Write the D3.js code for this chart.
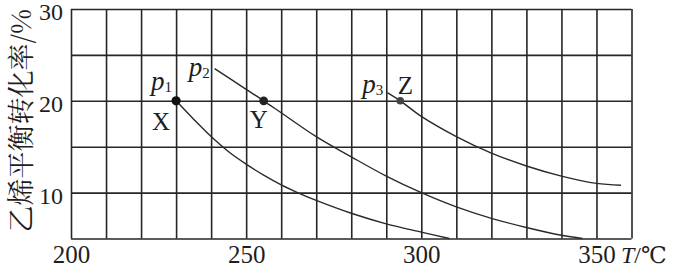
<!DOCTYPE html>
<html>
<head>
<meta charset="utf-8">
<script src="https://cdn.jsdelivr.net/npm/d3@7"></script>
<style>
  html, body { margin: 0; padding: 0; background: #fff; }
  svg { display: block; }
</style>
</head>
<body>
<svg id="chart" width="677" height="267"></svg>
<script>
// ---- data ----
const gridTemps = [200, 210, 220, 230, 240, 250, 260, 270, 280, 290, 300, 310, 320, 330, 340, 350, 360];
const tempTickLabels = [200, 250, 300, 350];
const gridRates = [5, 10, 15, 20, 25, 30];
const rateTickLabels = [10, 20, 30];

// curve p1 (starts at X)
const p1Temps = [230, 235, 240, 245, 250, 255, 260, 265, 270, 280, 290, 300, 308];
const p1Rates = [20, 18.0, 16.1, 14.45, 13.1, 11.9, 10.85, 9.95, 9.15, 7.75, 6.6, 5.7, 5.0];
// curve p2 (passes Y)
const p2Temps = [241, 250, 255, 260, 270, 280, 290, 300, 310, 320, 330, 340, 346];
const p2Rates = [23.5, 21.25, 20.0, 18.7, 16.1, 13.9, 11.8, 10.0, 8.45, 7.2, 6.2, 5.35, 5.0];
// curve p3 (passes Z)
const p3Temps = [290.3, 294, 300, 310, 320, 330, 340, 350, 357];
const p3Rates = [20.9, 20.0, 18.3, 16.1, 14.3, 12.9, 11.8, 11.0, 10.8];

const pointNames = ["X", "Y", "Z"];
const pointTemps = [230, 255, 294];
const pointRates = [20, 20, 20];

const pressureNames = ["1", "2", "3"];
const yTitle = "乙烯平衡转化率/%";
const xTitleVar = "T";
const xTitleSlash = "/";
const xTitleUnit = "℃";

// ---- drawing ----
const svg = d3.select("#chart");
const x = d3.scaleLinear().domain([200, 360]).range([71, 631.5]);
const y = d3.scaleLinear().domain([5, 30]).range([238.5, 9]);
const ink = "#262626";
const textInk = "#1e1e1e";
const serif = "'Liberation Serif', 'DejaVu Serif', serif";

// grid + axes
const yAxis = d3.axisLeft(y)
  .tickValues(gridRates)
  .tickSize(-(x.range()[1] - x.range()[0]))
  .tickPadding(8)
  .tickFormat(d => rateTickLabels.includes(d) ? d : "");
const gy = svg.append("g").attr("transform", `translate(${x.range()[0]},0)`).call(yAxis);

const xAxis = d3.axisBottom(x)
  .tickValues(gridTemps)
  .tickSize(-(y.range()[0] - y.range()[1]))
  .tickPadding(6)
  .tickFormat(d => tempTickLabels.includes(d) ? d : "");
const gx = svg.append("g").attr("transform", `translate(0,${y.range()[0]})`).call(xAxis);

[gx, gy].forEach(g => {
  g.select(".domain").remove();
  g.selectAll(".tick line").attr("stroke", ink).attr("stroke-width", 1.6);
  g.selectAll(".tick text")
    .attr("fill", textInk)
    .attr("font-family", serif)
    .attr("font-size", 25);
});
gy.selectAll(".tick text").attr("font-size", 24).attr("dy", "0.45em");
gx.selectAll(".tick text").attr("dy", "0.72em");

// curves
const line = d3.line().x(d => x(d[0])).y(d => y(d[1])).curve(d3.curveCatmullRom.alpha(0.5));
const curves = [
  d3.zip(p1Temps, p1Rates),
  d3.zip(p2Temps, p2Rates),
  d3.zip(p3Temps, p3Rates)
];
svg.append("g").selectAll("path").data(curves).join("path")
  .attr("d", line)
  .attr("fill", "none")
  .attr("stroke", "#2a2a2a")
  .attr("stroke-width", 1.4);

// points
const dotR = [4.6, 4.4, 3.8];
const dotC = ["#111", "#222", "#444"];
svg.append("g").selectAll("circle").data(pointTemps).join("circle")
  .attr("cx", (d) => x(d))
  .attr("cy", (d, i) => y(pointRates[i]))
  .attr("r", (d, i) => dotR[i])
  .attr("fill", (d, i) => dotC[i]);

// point labels
const ptOff = [[-15, 29], [-5, 27], [5, -7]];
svg.append("g").selectAll("text").data(pointNames).join("text")
  .attr("x", (d, i) => x(pointTemps[i]) + ptOff[i][0])
  .attr("y", (d, i) => y(pointRates[i]) + ptOff[i][1])
  .attr("text-anchor", "middle")
  .attr("font-family", serif)
  .attr("font-size", 25)
  .attr("fill", textInk)
  .text(d => d);

// pressure labels p1, p2, p3
const pAnchor = [
  [x(pointTemps[0]) - 25, y(pointRates[0]) - 11],
  [x(p2Temps[0]) - 26, y(p2Rates[0]) + 7],
  [x(p3Temps[0]) - 25, y(p3Rates[0]) + 0]
];
pressureNames.forEach((n, i) => {
  const t = svg.append("text")
    .attr("x", pAnchor[i][0])
    .attr("y", pAnchor[i][1])
    .attr("font-family", serif)
    .attr("fill", textInk);
  t.append("tspan").attr("font-style", "italic").attr("font-size", 27).text("p");
  t.append("tspan").attr("font-size", 15).attr("dy", 2).text(n);
});

// x title
const xt = svg.append("text")
  .attr("x", 621)
  .attr("y", 263)
  .attr("fill", textInk)
  .attr("font-family", serif)
  .attr("font-size", 24);
xt.append("tspan").attr("font-style", "italic").text(xTitleVar);
xt.append("tspan").text(xTitleSlash);
xt.append("tspan")
  .attr("font-family", "'DejaVu Serif', 'Noto Sans CJK SC', serif")
  .attr("font-size", 23)
  .text(xTitleUnit);

// y title
svg.append("text")
  .attr("transform", `translate(19,${(y.range()[0] + y.range()[1]) / 2 - 3}) rotate(-90)`)
  .attr("text-anchor", "middle")
  .attr("dominant-baseline", "central")
  .attr("font-family", "'Noto Serif CJK SC', 'Noto Sans CJK SC', sans-serif")
  .attr("font-size", 27)
  .attr("fill", textInk)
  .text(yTitle);
</script>
</body>
</html>
